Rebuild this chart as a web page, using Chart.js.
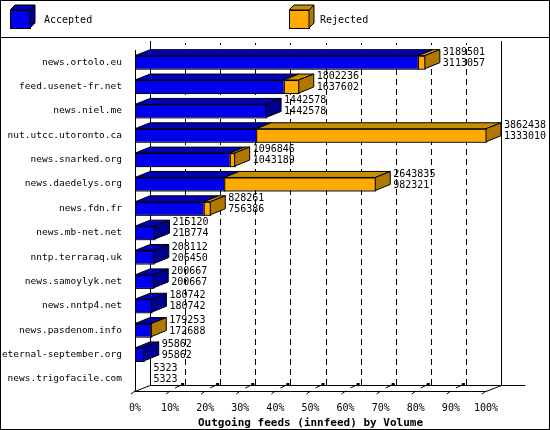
<!DOCTYPE html>
<html><head><meta charset="utf-8">
<script src="https://cdn.jsdelivr.net/npm/chart.js@4/dist/chart.umd.min.js"></script>
<style>html,body{margin:0;padding:0;background:#fff}#w{position:relative;width:550px;height:430px}</style>
</head><body><div id="w"><canvas id="c" width="550" height="430" style="width:550px;height:430px"></canvas></div>
<script>
const categories=["news.ortolo.eu","feed.usenet-fr.net","news.niel.me","nut.utcc.utoronto.ca","news.snarked.org","news.daedelys.org","news.fdn.fr","news.mb-net.net","nntp.terraraq.uk","news.samoylyk.net","news.nntp4.net","news.pasdenom.info","eternal-september.org","news.trigofacile.com"];
const totals=[3189501,1802236,1442578,3862438,1096846,2643835,828261,215120,208112,200667,180742,179253,95862,5323];
const accepted=[3113057,1637602,1442578,1333010,1043189,982321,756386,213774,206450,200667,180742,172688,95862,5323];
const tickLabels=["0%","10%","20%","30%","40%","50%","60%","70%","80%","90%","100%"];
const maxTotal=Math.max(...totals);
const rejected=totals.map((t,i)=>t-accepted[i]);
const DX=15,DY=-6;
const MONO="'DejaVu Sans Mono', monospace";
const cols={acc:['#0000ee','#0000b4','#000090'],rej:['#ffaa00','#c89000','#b07800']};
const deco={id:'deco',
beforeDatasetsDraw(ch){const c=ch.ctx,x=ch.scales.x,a=ch.chartArea;c.save();
 const x0=x.getPixelForValue(0),bot=a.bottom,top=a.top;
 c.strokeStyle='#000';c.lineWidth=1;
 c.setLineDash([6,4]);
 for(let i=1;i<10;i++){const px=Math.round(x.getPixelForValue(maxTotal*i/10)+DX)+.5;c.beginPath();c.moveTo(px,bot+DY);c.lineTo(px,top+DY-1);c.stroke();}
 c.setLineDash([]);
 const xr=Math.round(x.getPixelForValue(maxTotal)+DX)+.5;
 c.beginPath();c.moveTo(xr,bot+DY);c.lineTo(xr,top+DY-3);c.stroke();
 c.beginPath();c.moveTo(Math.round(x0+DX)+.5,bot+DY);c.lineTo(Math.round(x0+DX)+.5,top+DY-3);c.stroke();
 c.beginPath();c.moveTo(Math.round(x0)+.5,bot+.5);c.lineTo(Math.round(x0)+.5,top);c.stroke();
 c.beginPath();c.moveTo(x0,bot+.5);c.lineTo(x.getPixelForValue(maxTotal),bot+.5);c.lineTo(xr,bot+DY+.5);c.lineTo(xr+24,bot+DY+.5);c.stroke();
 c.beginPath();c.moveTo(x0,bot+.5);c.lineTo(x0+DX,bot+DY+.5);c.lineTo(xr,bot+DY+.5);c.stroke();
 c.fillStyle='#000';
 for(let i=0;i<=10;i++){const px=x.getPixelForValue(maxTotal*i/10);c.beginPath();c.moveTo(px-4,bot+3);c.lineTo(px,bot);c.stroke();
  if(i>0&&i<10){c.fillRect(px+DX-4,bot+DY-2,3,3);c.beginPath();c.moveTo(px+DX-10,bot+DY+3);c.lineTo(px+DX-4,bot+DY);c.stroke();}}
 c.restore();},
afterDatasetsDraw(ch){const c=ch.ctx;c.save();c.lineWidth=1;c.strokeStyle='#000';
 const m0=ch.getDatasetMeta(0).data,m1=ch.getDatasetMeta(1).data;
 categories.forEach((_,i)=>{
  const segs=[[m0[i],cols.acc],[m1[i],cols.rej]].filter(s=>Math.abs(s[0].x-s[0].base)>0.5);
  segs.forEach(([b,cl],k)=>{const y1=b.y-b.height/2,y2=b.y+b.height/2,l=b.base,r=b.x;
   c.fillStyle=cl[0];c.fillRect(l,y1,r-l,y2-y1);c.strokeRect(l+.5,y1+.5,r-l,y2-y1);
   c.fillStyle=cl[1];c.beginPath();c.moveTo(l,y1);c.lineTo(l+DX,y1+DY);c.lineTo(r+DX,y1+DY);c.lineTo(r,y1);c.closePath();c.fill();c.stroke();
   if(k==segs.length-1){c.fillStyle=cl[2];c.beginPath();c.moveTo(r,y1);c.lineTo(r+DX,y1+DY);c.lineTo(r+DX,y2+DY);c.lineTo(r,y2);c.closePath();c.fill();c.stroke();}
  });
  const last=segs.length?segs[segs.length-1][0]:m0[i];
  c.fillStyle='#000';c.font='10px '+MONO;c.textAlign='left';c.textBaseline='middle';
  const tx=last.x+DX+3,yc=last.y;
  c.fillText(String(totals[i]),tx,yc-10);c.fillText(String(accepted[i]),tx,yc+1);
 });
 c.strokeRect(.5,.5,549,429);c.beginPath();c.moveTo(0,37.5);c.lineTo(550,37.5);c.stroke();
 const icon=(x,cl)=>{c.fillStyle=cl[0];c.fillRect(x,10,20,18);c.strokeRect(x+.5,10.5,20,18);
  c.fillStyle=cl[1];c.beginPath();c.moveTo(x,10);c.lineTo(x+5,5);c.lineTo(x+25,5);c.lineTo(x+20,10);c.closePath();c.fill();c.stroke();
  c.fillStyle=cl[2];c.beginPath();c.moveTo(x+20,10);c.lineTo(x+25,5);c.lineTo(x+25,23);c.lineTo(x+20,28);c.closePath();c.fill();c.stroke();};
 icon(10,cols.acc);icon(289,cols.rej);
 c.fillStyle='#000';c.font='10px '+MONO;c.textBaseline='middle';c.fillText('Accepted',44,20);c.fillText('Rejected',320,20);
 c.restore();}};
new Chart(document.getElementById('c'),{type:'bar',
 data:{labels:categories,datasets:[
  {label:'Accepted',data:accepted,backgroundColor:'rgba(0,0,0,0)',barThickness:13},
  {label:'Rejected',data:rejected,backgroundColor:'rgba(0,0,0,0)',barThickness:13}]},
 options:{indexAxis:'y',responsive:false,animation:false,devicePixelRatio:1,
  layout:{padding:{top:50,right:64,left:0,bottom:0}},
  plugins:{legend:{display:false},tooltip:{enabled:false}},
  scales:{
   x:{stacked:true,min:0,max:maxTotal,afterBuildTicks(s){s.ticks=tickLabels.map((_,i)=>({value:maxTotal*i/10}));},
    grid:{display:false},border:{display:false},
    ticks:{color:'#000',font:{family:MONO,size:10},padding:3,maxRotation:0,autoSkip:false,callback:(v,i)=>tickLabels[i]},
    title:{display:true,text:'Outgoing feeds (innfeed) by Volume',color:'#000',font:{family:MONO,size:11,weight:'bold'},padding:{top:0,bottom:0}},
    afterFit(s){s.height=39;}},
   y:{stacked:true,grid:{display:false},border:{display:false},
    ticks:{color:'#000',font:{family:MONO,size:9.5},padding:5,autoSkip:false},
    afterFit(s){s.width=135;}}}},
 plugins:[deco]});
</script></body></html>
